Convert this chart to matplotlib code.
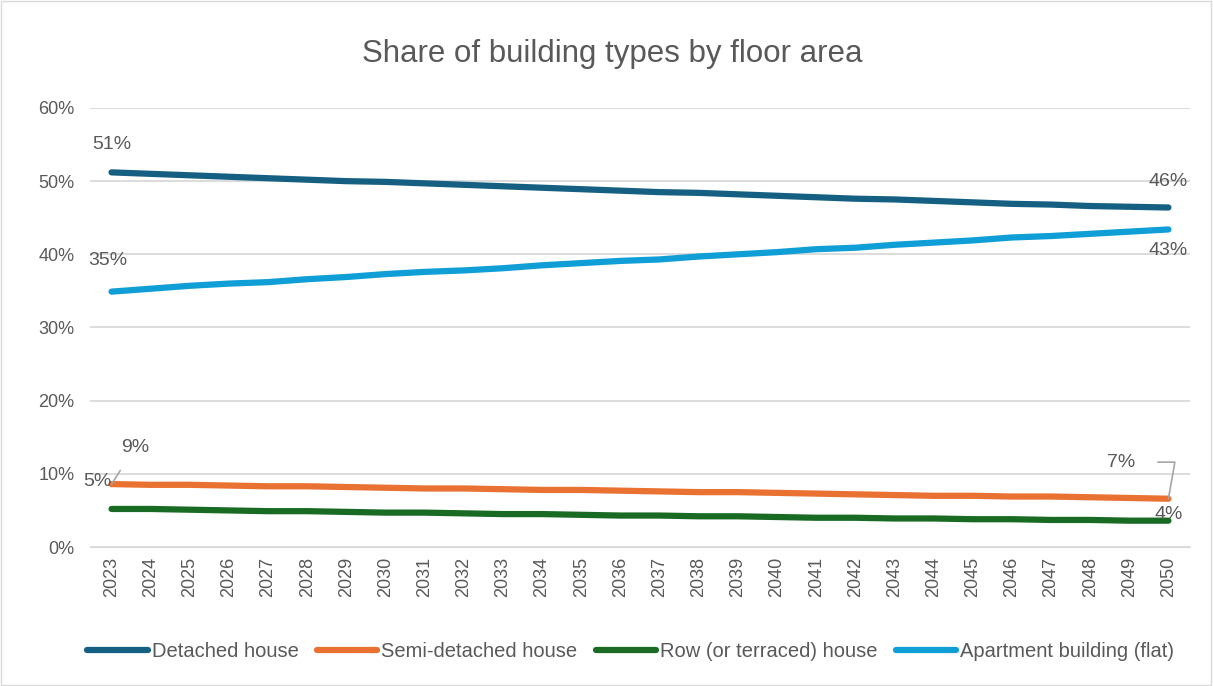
import matplotlib
matplotlib.use("Agg")
import matplotlib.pyplot as plt
from matplotlib.ticker import FuncFormatter, MultipleLocator
from matplotlib.patches import Rectangle

plt.rcParams['font.family'] = ['Liberation Sans', 'DejaVu Sans']

years = [str(y) for y in range(2023, 2051)]
detached = [51.2, 51.0, 50.8, 50.6, 50.4, 50.2, 50.0, 49.9, 49.7, 49.5, 49.3, 49.1, 48.9, 48.7,
            48.5, 48.4, 48.2, 48.0, 47.8, 47.6, 47.5, 47.3, 47.1, 46.9, 46.8, 46.6, 46.5, 46.4]
semi = [8.6, 8.5, 8.5, 8.4, 8.3, 8.3, 8.2, 8.1, 8.0, 8.0, 7.9, 7.8, 7.8, 7.7,
        7.6, 7.5, 7.5, 7.4, 7.3, 7.2, 7.1, 7.0, 7.0, 6.9, 6.9, 6.8, 6.7, 6.6]
row = [5.2, 5.2, 5.1, 5.0, 4.9, 4.9, 4.8, 4.7, 4.7, 4.6, 4.5, 4.5, 4.4, 4.3,
       4.3, 4.2, 4.2, 4.1, 4.0, 4.0, 3.9, 3.9, 3.8, 3.8, 3.7, 3.7, 3.6, 3.6]
apartment = [34.9, 35.3, 35.7, 36.0, 36.2, 36.6, 36.9, 37.3, 37.6, 37.8, 38.1, 38.5, 38.8, 39.1,
             39.3, 39.7, 40.0, 40.3, 40.7, 40.9, 41.3, 41.6, 41.9, 42.3, 42.5, 42.8, 43.1, 43.4]
series_names = ["Detached house", "Semi-detached house", "Row (or terraced) house", "Apartment building (flat)"]
colors = ["#156082", "#E97132", "#196B24", "#0F9ED5"]

text_c = "#595959"
fig = plt.figure(figsize=(12.13, 6.86), dpi=100)
fig.patches.append(Rectangle((0.001, 0.001), 0.997, 0.997, transform=fig.transFigure,
                             fill=False, edgecolor="#D9D9D9", linewidth=1))
ax = fig.add_axes([0.0742, 0.2026, 0.9068, 0.64])

x = list(range(len(years)))
data = [detached, semi, row, apartment]
for name, vals, c in zip(series_names, data, colors):
    ax.plot(x, vals, color=c, linewidth=4.5, solid_capstyle='round', label=name, zorder=3)

ax.set_xlim(-0.55, len(years) - 0.45)
ax.set_ylim(0, 60)
ax.yaxis.set_major_locator(MultipleLocator(10))
ax.yaxis.set_major_formatter(FuncFormatter(lambda v, p: f"{v:.0f}%"))
ax.grid(axis='y', color="#D9D9D9", linewidth=1.3)
ax.set_axisbelow(True)
for s in ax.spines.values():
    s.set_visible(False)
ax.spines['bottom'].set_visible(True)
ax.spines['bottom'].set_color("#D9D9D9")
ax.set_xticks(x)
ax.set_xticklabels(years, rotation=90)
ax.tick_params(axis='both', length=0, colors=text_c, labelsize=13)
ax.tick_params(axis='y', pad=11)
ax.tick_params(axis='x', pad=7)

fig.text(0.505, 0.922, "Share of building types by floor area", ha='center', va='center',
         fontsize=22.5, color=text_c)

fs = 14
last = len(years) - 1
ax.text(0, detached[0] + 3.8, f"{detached[0]:.0f}%", ha='center', va='center', fontsize=fs, color=text_c)
ax.text(-0.1, apartment[0] + 4.3, f"{apartment[0]:.0f}%", ha='center', va='center', fontsize=fs, color=text_c)
ax.text(last, detached[-1] + 3.6, f"{detached[-1]:.0f}%", ha='center', va='center', fontsize=fs, color=text_c)
ax.text(last, apartment[-1] - 2.9, f"{apartment[-1]:.0f}%", ha='center', va='center', fontsize=fs, color=text_c)
ax.text(last, row[-1] + 0.9, f"{row[-1]:.0f}%", ha='center', va='center', fontsize=fs, color=text_c)
ax.text(-0.35, row[0] + 3.7, f"{row[0]:.0f}%", ha='center', va='center', fontsize=fs, color=text_c)
ax.annotate(f"{semi[0]:.0f}%", xy=(0, semi[0]), xytext=(0.6, semi[0] + 5.0), ha='center', va='center',
            fontsize=fs, color=text_c,
            arrowprops=dict(arrowstyle='-', color="#A6A6A6", lw=1.2, shrinkA=10, shrinkB=0))
ax.annotate(f"{semi[-1]:.0f}%", xy=(last, semi[-1]), xytext=(last - 1.2, semi[-1] + 5.0), ha='center', va='center',
            fontsize=fs, color=text_c,
            arrowprops=dict(arrowstyle='-', color="#A6A6A6", lw=1.2, shrinkA=14, shrinkB=0,
                            connectionstyle="angle,angleA=0,angleB=80,rad=0"))

leg = fig.legend(loc='center', bbox_to_anchor=(0.52, 0.05), ncol=4, frameon=False,
                 fontsize=14.5, handlelength=3.0, handletextpad=0.2, columnspacing=0.9,
                 labelcolor=text_c)
for h in leg.get_lines():
    h.set_linewidth(4.5)

fig.savefig("out.png", dpi=100)
